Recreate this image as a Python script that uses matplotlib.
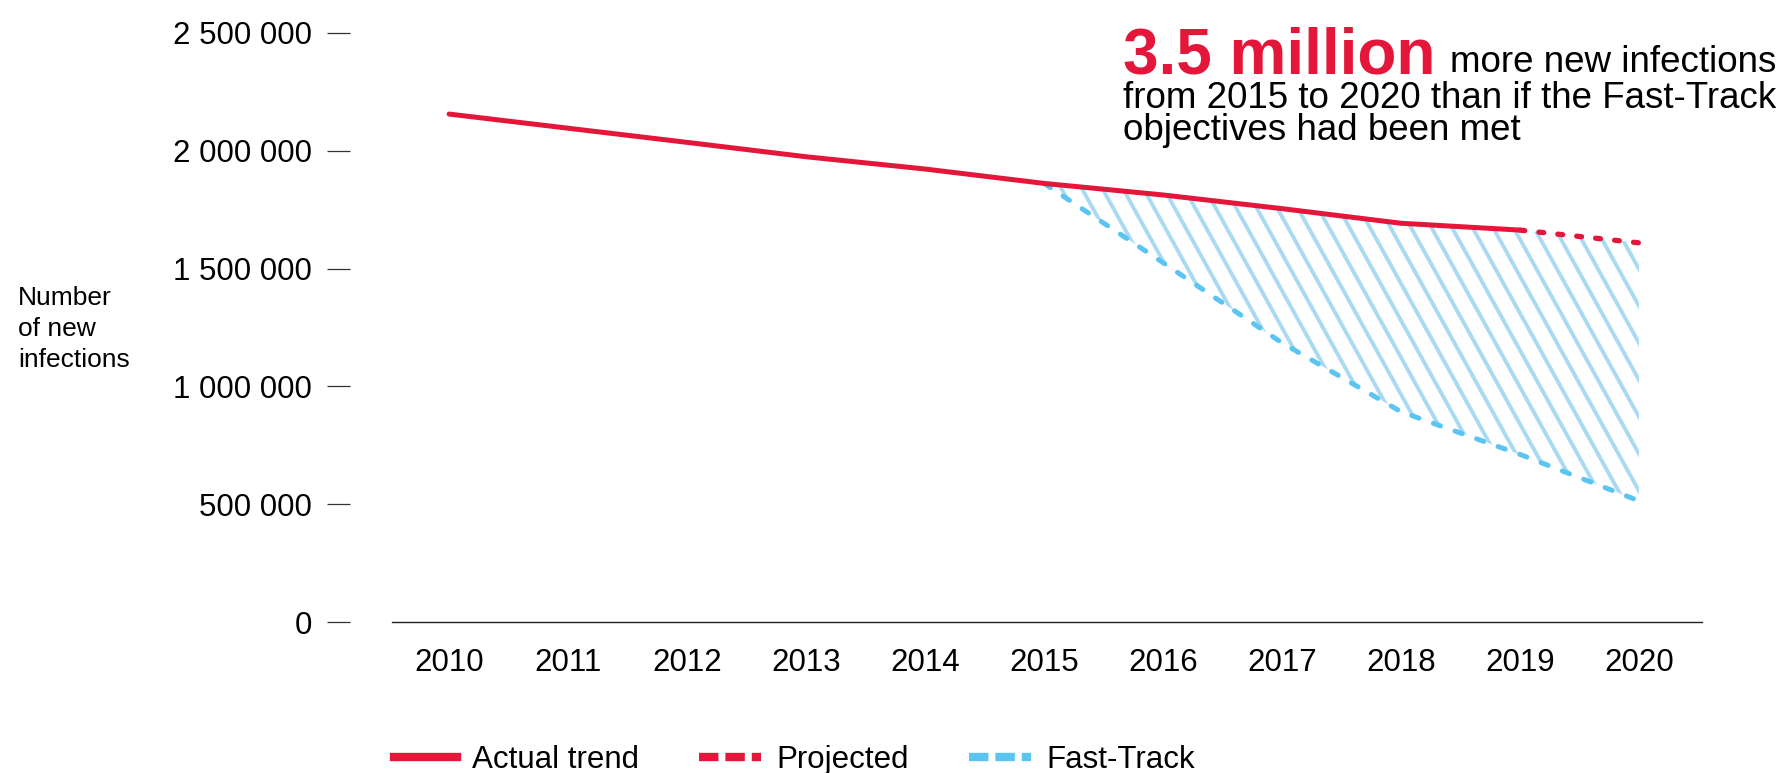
import matplotlib
matplotlib.use('Agg')
import matplotlib.pyplot as plt
from matplotlib.lines import Line2D
from matplotlib.patches import Polygon
from matplotlib.ticker import FuncFormatter
import numpy as np

# values
actual_years = [2010, 2011, 2012, 2013, 2014, 2015, 2016, 2017, 2018, 2019]
actual = [2155000, 2095000, 2035000, 1974000, 1922000, 1861000, 1812000, 1754000, 1692000, 1663000]
projected_years = [2019, 2020]
projected = [1663000, 1609000]
fasttrack_years = [2015, 2016, 2017, 2018, 2019, 2020]
fasttrack = [1861000, 1525000, 1185000, 893000, 712000, 515000]
xticks = [2010, 2011, 2012, 2013, 2014, 2015, 2016, 2017, 2018, 2019, 2020]
yticks = [0, 500000, 1000000, 1500000, 2000000, 2500000]
legend_labels = ['Actual trend', 'Projected', 'Fast-Track']

red = '#E4163A'
blue = '#5BC5F2'
hatch_blue = '#A9DAF3'

plt.rcParams['font.family'] = ['Liberation Sans', 'DejaVu Sans']
plt.rcParams['lines.scale_dashes'] = False

W, H, dpi = 1791, 773, 100
fig = plt.figure(figsize=(W / dpi, H / dpi), dpi=dpi)
ax = fig.add_axes([392 / W, (H - 622.3) / H, 1310 / W, 589.6 / H])

ax.set_xlim(2009.52, 2020.53)
ax.set_ylim(0, 2500000)

# shaded gap between the projected trend and the Fast-Track path
upper = actual[actual_years.index(2015):] + projected[1:]
verts = np.column_stack([fasttrack_years + fasttrack_years[::-1],
                         upper + fasttrack[::-1]])
gap = Polygon(verts, closed=True, facecolor='none', edgecolor='none',
              transform=ax.transData)
ax.add_patch(gap)

ax_w = 1310.0
ax_h = 589.6
dx = ax_h / np.tan(np.radians(61)) / ax_w
step = 20.5 / ax_w
for x0 in np.arange(-0.4, 1.05, step):
    ln = Line2D([x0, x0 + dx], [1, 0], transform=ax.transAxes,
                color=hatch_blue, lw=2.8, zorder=1)
    ln.set_clip_path(gap)
    ax.add_line(ln)

ax.plot(fasttrack_years, fasttrack, color=blue, lw=3.6, dashes=(5.5, 11),
        dash_capstyle='round', zorder=2)
ax.plot(projected_years, projected, color=red, lw=3.8, dashes=(3.5, 10.2),
        dash_capstyle='round', zorder=3)
ax.plot(actual_years, actual, color=red, lw=3.6, solid_capstyle='round', zorder=4)

# axes styling
for s in ['top', 'right']:
    ax.spines[s].set_visible(False)
ax.spines['left'].set_visible(False)
ax.spines['left'].set_position(('outward', 30.2))
ax.spines['bottom'].set_linewidth(1.0)
ax.spines['bottom'].set_color('#222222')

ax.set_yticks(yticks)
ax.yaxis.set_major_formatter(FuncFormatter(lambda v, p: f'{int(v):,}'.replace(',', ' ')))
ax.tick_params(axis='y', direction='out', length=16.5, width=0.9, color='#333333',
               pad=11, labelsize=22.5)
ax.set_xticks(xticks)
ax.set_xticklabels([str(y) for y in xticks])
ax.tick_params(axis='x', length=0, pad=18.3, labelsize=22.5)

fig.text(18 / W, 0.5744, 'Number\nof new\ninfections', ha='left', va='center',
         fontsize=19, linespacing=1.36)

# legend
handles = [
    Line2D([], [], color=red, lw=6),
    Line2D([], [], color=red, lw=6, dashes=(14, 5)),
    Line2D([], [], color=blue, lw=6, dashes=(14, 5)),
]
fig.legend(handles, legend_labels, loc='center left', bbox_to_anchor=(394 / W, 12.6 / H),
           ncol=3, frameon=False, fontsize=22.5, handlelength=2.0,
           handletextpad=0.5, columnspacing=1.9, borderpad=0, borderaxespad=0)

# headline note
t1 = fig.text(1123 / W, 1 - 74 / H, '3.5 million', color=red, fontweight='bold',
              fontsize=46, va='baseline', ha='left')
fig.canvas.draw()
bb = t1.get_window_extent()
fig.text((bb.x1 + 14) / W, 1 - 72 / H, 'more new infections', fontsize=26.5,
         va='baseline', ha='left')
fig.text(1123 / W, 1 - 108.5 / H, 'from 2015 to 2020 than if the Fast-Track',
         fontsize=26.5, va='baseline', ha='left')
fig.text(1123 / W, 1 - 140 / H, 'objectives had been met',
         fontsize=26.5, va='baseline', ha='left')

fig.savefig('out.png', dpi=dpi)
